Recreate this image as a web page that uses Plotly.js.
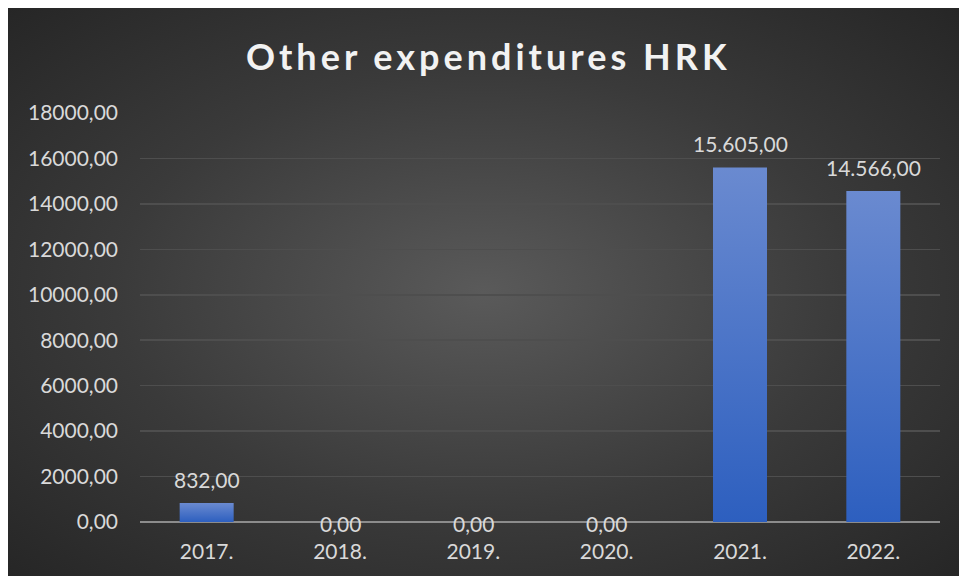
<!DOCTYPE html>
<html>
<head>
<meta charset="utf-8">
<script src="https://cdn.plot.ly/plotly-3.0.1.min.js"></script>
<style>
  html, body { margin: 0; padding: 0; background: #ffffff; width: 959px; height: 576px; overflow: hidden; }
  #wrap { position: absolute; left: 8px; top: 8px; width: 951px; height: 568px;
          background: radial-gradient(ellipse at 50% 50%, #5a5a5a 0%, #3a3a3a 55%, #262626 100%); }
  #chart { width: 951px; height: 568px; }
  .gtitle { letter-spacing: 4px; }
</style>
</head>
<body>
<div id="wrap"><div id="chart"></div></div>
<script>
const years = ["2017.", "2018.", "2019.", "2020.", "2021.", "2022."];
const values = [832, 0, 0, 0, 15605, 14566];
const yTickVals = [0, 2000, 4000, 6000, 8000, 10000, 12000, 14000, 16000, 18000];
const yTickText = ["0,00", "2000,00", "4000,00", "6000,00", "8000,00", "10000,00", "12000,00", "14000,00", "16000,00", "18000,00"];

function fmt(v) {
  const s = Math.round(v).toString().replace(/\B(?=(\d{3})+(?!\d))/g, ".");
  return s + ",00";
}
const labels = values.map(fmt);

const fontFam = "Lato, 'Open Sans', sans-serif";
const trace = {
  type: "bar",
  x: years,
  y: values,
  marker: { color: "#4472c4", line: { width: 0 } },
  hoverinfo: "none"
};

// annotation x uses the category index (category axis positions 0..n-1)
const annotations = years.map(function (yr, i) {
  return {
    x: i, y: values[i], xref: "x", yref: "y",
    text: labels[i], showarrow: false,
    yanchor: values[i] === 0 ? "middle" : "bottom",
    yshift: values[i] === 0 ? -1 : 9,
    font: { family: fontFam, size: 21, color: "#d9d9d9" }
  };
});

const layout = {
  width: 951, height: 568,
  margin: { l: 132, r: 19, t: 105, b: 54 },
  paper_bgcolor: "rgba(0,0,0,0)",
  plot_bgcolor: "rgba(0,0,0,0)",
  bargap: 0.595,
  showlegend: false,
  annotations: annotations,
  title: {
    text: "<b>Other expenditures HRK</b>",
    font: { family: fontFam, size: 36, color: "#f2f2f2" },
    x: 0.505, xanchor: "center",
    xref: "container", yref: "container",
    y: 1 - 49 / 568, yanchor: "middle"
  },
  xaxis: {
    type: "category",
    categoryorder: "array",
    categoryarray: years,
    showgrid: false,
    showline: false,
    zeroline: false,
    ticks: "",
    tickfont: { family: fontFam, size: 21, color: "#d9d9d9" },
    ticklabelstandoff: 15,
    fixedrange: true
  },
  yaxis: {
    range: [0, 18000],
    tickvals: yTickVals,
    ticktext: yTickText,
    showgrid: true,
    gridcolor: "#4e4e4e",
    gridwidth: 1.5,
    zeroline: true,
    zerolinecolor: "#8c8c8c",
    zerolinewidth: 2,
    showline: false,
    ticks: "",
    tickfont: { family: fontFam, size: 21, color: "#d9d9d9" },
    ticklabelstandoff: 21,
    fixedrange: true
  }
};

Plotly.newPlot("chart", [trace], layout, { displayModeBar: false, staticPlot: true }).then(function (gd) {
  const svg = gd.querySelector("svg.main-svg");
  const ns = "http://www.w3.org/2000/svg";
  let defs = svg.querySelector("defs");
  if (!defs) { defs = document.createElementNS(ns, "defs"); svg.insertBefore(defs, svg.firstChild); }
  const lg = document.createElementNS(ns, "linearGradient");
  lg.setAttribute("id", "barGrad");
  lg.setAttribute("x1", "0"); lg.setAttribute("y1", "0");
  lg.setAttribute("x2", "0"); lg.setAttribute("y2", "1");
  const s1 = document.createElementNS(ns, "stop");
  s1.setAttribute("offset", "0"); s1.setAttribute("stop-color", "#6a8ad0");
  const s2 = document.createElementNS(ns, "stop");
  s2.setAttribute("offset", "1"); s2.setAttribute("stop-color", "#2d5fbf");
  lg.appendChild(s1); lg.appendChild(s2);
  defs.appendChild(lg);
  gd.querySelectorAll(".bars .point path").forEach(function (p) {
    p.style.fill = "url(#barGrad)";
  });
});
</script>
</body>
</html>
